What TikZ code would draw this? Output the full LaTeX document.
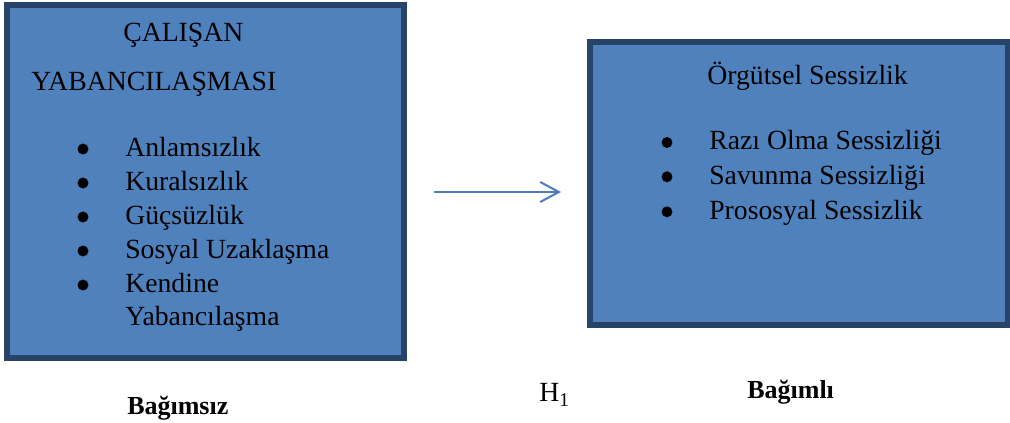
\documentclass[tikz,border=0pt]{standalone}
\usepackage{fontspec}
\setmainfont{Liberation Serif}
\usetikzlibrary{arrows.meta}
\definecolor{boxfill}{HTML}{4F81BD}
\definecolor{boxline}{HTML}{274468}
\definecolor{arrowblue}{HTML}{4A7EBB}
\begin{document}
\begin{tikzpicture}[x=0.75pt,y=-0.75pt,
  box/.style={draw=boxline, fill=boxfill, line width=4.5pt, inner sep=0pt, rectangle},
  txt/.style={anchor=base west, inner sep=0pt, font=\fontsize{20.8}{25}\selectfont},
  lbl/.style={anchor=base west, inner sep=0pt, font=\fontsize{19.5}{24}\selectfont\bfseries},
  bul/.style={circle, fill=black, inner sep=0pt, minimum size=8.2pt},
  arr/.style={draw=arrowblue, line width=1.5pt, -{Straight Barb[length=14pt,width=15pt,line width=1.5pt]}}
]
\useasboundingbox (0,0) rectangle (1010,423);
% boxes
\node[box, minimum width=297.75pt, minimum height=264.75pt] (L) at (205.5,182) {};
\node[box, minimum width=313.5pt, minimum height=211.9pt] (R) at (799,183.25) {};
% left box text
\node[txt] (t1) at (123,41.7) {ÇALIŞAN};
\node[txt] (t2) at (31,90.7) {YABANCILAŞMASI};
\node[txt] (l1) at (125,156.7) {Anlamsızlık};
\node[txt] (l2) at (125,190.7) {Kuralsızlık};
\node[txt] (l3) at (125,224.7) {Güçsüzlük};
\node[txt] (l4) at (125,258.7) {Sosyal Uzaklaşma};
\node[txt] (l5) at (125,292.7) {Kendine};
\node[txt] (l6) at (125,325.5) {Yabancılaşma};
\node[bul] (b1) at (83,149) {};
\node[bul] (b2) at (83,183) {};
\node[bul] (b3) at (83,217) {};
\node[bul] (b4) at (83,251) {};
\node[bul] (b5) at (83,285) {};
% right box text
\node[txt] (r0) at (707,85) {Örgütsel Sessizlik};
\node[txt] (r1) at (709,150) {Razı Olma Sessizliği};
\node[txt] (r2) at (709,184.3) {Savunma Sessizliği};
\node[txt] (r3) at (709,219.3) {Prososyal Sessizlik};
\node[bul] (c1) at (667,142.5) {};
\node[bul] (c2) at (667,176.8) {};
\node[bul] (c3) at (667,211.8) {};
% arrow
\coordinate (a1) at (434,192);
\coordinate (a2) at (561,192);
\draw[arr] (a1) -- (a2);
% labels
\node[lbl] (bs) at (127,415) {Bağımsız};
\node[txt] (h1) at (539,402) {H\textsubscript{1}};
\node[lbl] (bl) at (747,398.3) {Bağımlı};
\end{tikzpicture}
\end{document}
